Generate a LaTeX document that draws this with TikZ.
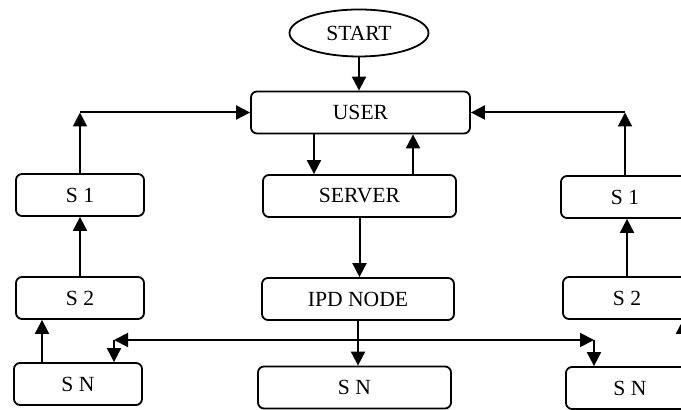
\documentclass[tikz,border=0pt]{standalone}
\usepackage{fontspec}
\setmainfont{Liberation Serif}
\usetikzlibrary{shapes.geometric,arrows.meta}
\begin{document}
\begin{tikzpicture}[x=0.5pt,y=-0.5pt,
  box/.style={draw,line width=0.9pt,rounded corners=3pt,minimum width=64pt,minimum height=21pt,inner sep=0pt,font=\fontsize{10.8}{13}\selectfont},
  ell/.style={draw,ellipse,line width=0.9pt,minimum width=69.5pt,minimum height=23.5pt,inner sep=0pt,font=\fontsize{10.8}{13}\selectfont},
  tip/.tip={Triangle[length=7pt,width=7pt]},
  arr/.style={line width=1pt,-tip},
  darr/.style={line width=1pt,tip-tip}]
\useasboundingbox (0,0) rectangle (681,410);
\clip (0,0) rectangle (681,410);
\node[ell] (start) at (359,33) {START};
\node[box,minimum width=109.5pt] (user) at (360.5,112.5) {USER};
\node[box,minimum width=96.5pt] (server) at (359.5,196) {SERVER};
\node[box,minimum width=96pt] (ipd) at (358,299) {IPD NODE};
\node[box,minimum width=96.5pt] (snm) at (354.5,387.5) {S N};
\node[box] (ls1) at (80,195) {S 1};
\node[box] (ls2) at (80,298) {S 2};
\node[box] (lsn) at (78,384) {S N};
\node[box] (rs1) at (625,197) {S 1};
\node[box] (rs2) at (627,298) {S 2};
\node[box] (rsn) at (630,388) {S N};
\coordinate (xa) at (314,0);
\coordinate (xb) at (413,0);
\coordinate (xc) at (42,0);
\coordinate (xd) at (683,0);
\coordinate (lc) at (ls1.north |- user.west);
\coordinate (rc) at (rs1.north |- user.east);
\coordinate (hl) at (114,340);
\coordinate (hr) at (594,340);
\draw[arr] (start.south) -- (start.south |- user.north);
\draw[arr] (ls1.north) -- (lc);
\draw[arr] (lc) -- (user.west);
\draw[arr] (rs1.north) -- (rc);
\draw[arr] (rc) -- (user.east);
\draw[arr] (user.south -| xa) -- (server.north -| xa);
\draw[arr] (server.north -| xb) -- (user.south -| xb);
\draw[arr] (server.south) -- (server.south |- ipd.north);
\draw[arr] (ipd.south) -- (ipd.south |- snm.north);
\draw[arr] (ls2) -- (ls1);
\draw[arr] (lsn.north -| xc) -- (ls2.south -| xc);
\draw[darr] (hl) -- (hr);
\draw[arr] (hl) -- (hl |- lsn.north);
\draw[arr] (hr) -- (hr |- rsn.north);
\draw[arr] (rs2.north) -- (rs2.north |- rs1.south);
\draw[arr] (rsn.north -| xd) -- (rs2.south -| xd);
\end{tikzpicture}
\end{document}
